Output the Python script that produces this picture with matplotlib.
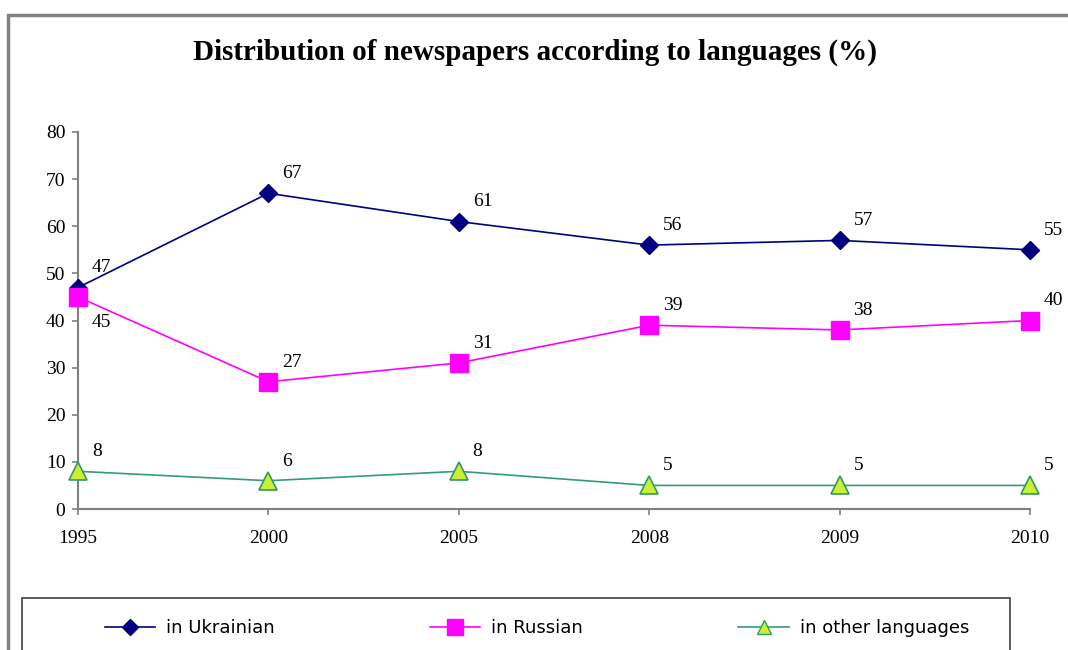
import matplotlib
matplotlib.use("Agg")
import matplotlib.pyplot as plt
from matplotlib.patches import Rectangle
from matplotlib.lines import Line2D

# Datos
years = ["1995", "2000", "2005", "2008", "2009", "2010"]
ukrainian = [47, 67, 61, 56, 57, 55]
russian = [45, 27, 31, 39, 38, 40]
other = [8, 6, 8, 5, 5, 5]

fig = plt.figure(figsize=(10.68, 6.5), dpi=100)
ax = fig.add_axes([78 / 1068, 1 - 509 / 650, (1030 - 78) / 1068, (509 - 132) / 650])

x = list(range(len(years)))

ax.plot(x, ukrainian, color="#000080", lw=1.2, marker="D", ms=9,
        mfc="#000080", mec="#000080", label="in Ukrainian", zorder=3)
ax.plot(x, russian, color="#FF00FF", lw=1.2, marker="s", ms=13,
        mfc="#FF00FF", mec="#FF00FF", label="in Russian", zorder=3)
ax.plot(x, other, color="#339980", lw=1.2, marker="^", ms=13,
        mfc="#CCEE33", mec="#339966", mew=1.2, label="in other languages", zorder=3)

# Etiquetas de datos
for series in (ukrainian, russian, other):
    for i, v in enumerate(series):
        if series is russian and i == 0:
            off, va = (10, -12), "top"
        else:
            off, va = (10, 8), "bottom"
        ax.annotate(str(v), (i, v), xytext=off, textcoords="offset points",
                    fontsize=14, family="Liberation Serif", ha="left", va=va)

ax.set_xlim(0, 5)
ax.set_ylim(0, 80)
ax.set_yticks(range(0, 81, 10))
ax.set_xticks(x)
ax.set_xticklabels(years)
for lab in ax.get_xticklabels() + ax.get_yticklabels():
    lab.set_family("Liberation Serif")
    lab.set_fontsize(14)
ax.tick_params(axis="both", direction="out", length=4, color="#808080", width=1.2)
ax.tick_params(axis="x", pad=11)
ax.tick_params(axis="y", pad=5)
for s in ("top", "right"):
    ax.spines[s].set_visible(False)
for s in ("left", "bottom"):
    ax.spines[s].set_color("#808080")
    ax.spines[s].set_linewidth(1.5)
for ln in ax.lines:
    ln.set_clip_on(False)

# Marco exterior
fig.patches.append(Rectangle((8 / 1068, -0.2), 1.2, 1 - 15 / 650 + 0.2,
                             transform=fig.transFigure, fill=False,
                             edgecolor="#808080", lw=2.5))

# Titulo
fig.text(535 / 1068, 1 - 52 / 650, "Distribution of newspapers according to languages (%)",
         ha="center", va="center", fontsize=21, fontweight="bold",
         family="Liberation Serif")

# Leyenda
fig.patches.append(Rectangle((22 / 1068, -0.2), (1010 - 22) / 1068, 1 - 598 / 650 + 0.2,
                             transform=fig.transFigure, fill=False,
                             edgecolor="#404040", lw=1.2))
handles = [
    Line2D([], [], color="#000080", marker="D", ms=8, mfc="#000080", lw=1.2),
    Line2D([], [], color="#FF00FF", marker="s", ms=12, mfc="#FF00FF", lw=1.2),
    Line2D([], [], color="#339980", marker="^", ms=10, mfc="#CCEE33", mec="#339966", lw=1.2),
]
labels = ["in Ukrainian", "in Russian", "in other languages"]
fig.legend(handles, labels, loc="center left", ncol=3, frameon=False,
           bbox_to_anchor=(92 / 1068, 1 - 628 / 650), columnspacing=8.6,
           handlelength=2.8, handletextpad=0.6, borderpad=0.2,
           prop={"family": "DejaVu Sans", "size": 13})

fig.savefig("out.png", dpi=100)
